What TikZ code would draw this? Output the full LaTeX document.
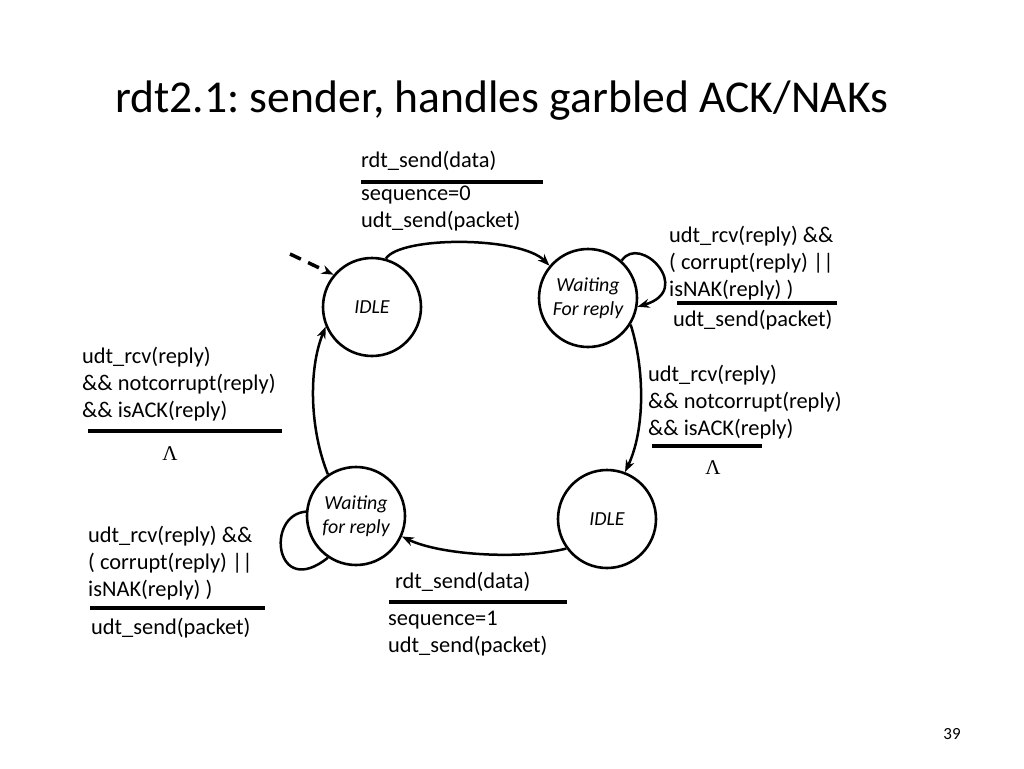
\documentclass[tikz,border=0pt]{standalone}
\usepackage{fontspec}
\setmainfont{Carlito}
\newfontfamily\lamfont{Liberation Serif}
\usetikzlibrary{arrows.meta}
\begin{document}
\frenchspacing
\begin{tikzpicture}[x=1pt,y=-1pt,
  state/.style={draw, line width=2.6pt, circle, minimum size=98pt, inner sep=0pt, align=center,
    font=\fontsize{19.9}{24}\selectfont\itshape},
  lbl/.style={anchor=west, inner sep=0pt, align=left, font=\fontsize{22.4}{27}\selectfont},
  lam/.style={inner sep=0pt, font=\fontsize{21}{24}\selectfont\lamfont},
  bar/.style={line width=3.6pt},
  tr/.style={line width=2.5pt, -{Stealth[length=12pt,width=9pt]}},
  loopline/.style={line width=2.5pt}]
\useasboundingbox (0,0) rectangle (1024,768);
\fill[white] (0,0) rectangle (1024,768);

% title
\node[anchor=base west, inner sep=0pt, font=\fontsize{45.6}{54}\selectfont] (title) at (115,112)
  {rdt2.1: sender, handles garbled ACK/NAKs};

% states
\node[state] (s0) at (372,307) {IDLE};
\node[state] (s1) at (588,298) {Waiting\\For reply};
\node[state] (s2) at (356,516) {Waiting\\for reply};
\node[state] (s3) at (607,519) {IDLE};

% initial arrow
\coordinate (init) at (290,254);
\draw[tr, line width=3.5pt, dash pattern=on 12pt off 8pt] (init) -- (s0.140);

% transitions
\draw[tr] (s0.74) .. controls (400,236) and (520,236) .. (s1.140);
\draw[tr] (s1.48) .. controls (640,233) and (695,290) .. (s1.-10);
\draw[tr] (s1.-32) .. controls (645,370) and (645,430) .. (s3.69);
\draw[tr] (s3.216) .. controls (520,560) and (440,555) .. (s2.-24);
\draw[tr] (s2.124) .. controls (310,430) and (308,370) .. (s0.203);
\draw[loopline] (s2.175) .. controls (265,515) and (275,600) .. (s2.236);

% top label
\node[lbl] (t1a) at (361,161) {rdt\_send(data)};
\draw[bar] (361,182) -- (543,182);
\node[lbl] (t1b) at (361,208.5) {sequence=0\\udt\_send(packet)};

% top-right label
\node[lbl] (t2a) at (669,263) {udt\_rcv(reply) \&\&\\( corrupt(reply) ||\\isNAK(reply) )};
\draw[bar] (677,303) -- (837,303);
\node[lbl] (t2b) at (673,320) {udt\_send(packet)};

% right label
\node[lbl] (t3a) at (648,402) {udt\_rcv(reply)\\\&\& notcorrupt(reply)\\\&\& isACK(reply)};
\draw[bar] (652,446) -- (762,446);
\node[lam] (t3b) at (713,468) {Λ};

% left label
\node[lbl] (t4a) at (82,384) {udt\_rcv(reply)\\\&\& notcorrupt(reply)\\\&\& isACK(reply)};
\draw[bar] (88,431) -- (282,431);
\node[lam] (t4b) at (170,454) {Λ};

% bottom-left label
\node[lbl] (t5a) at (88,563.5) {udt\_rcv(reply) \&\&\\( corrupt(reply) ||\\isNAK(reply) )};
\draw[bar] (90,608) -- (265,608);
\node[lbl] (t5b) at (91,628) {udt\_send(packet)};

% bottom label
\node[lbl] (t6a) at (395,582) {rdt\_send(data)};
\draw[bar] (389,602) -- (567,602);
\node[lbl] (t6b) at (388,633.5) {sequence=1\\udt\_send(packet)};

% page number
\node[inner sep=0pt, font=\fontsize{17}{20}\selectfont] (pg) at (952,734) {39};
\end{tikzpicture}
\end{document}
